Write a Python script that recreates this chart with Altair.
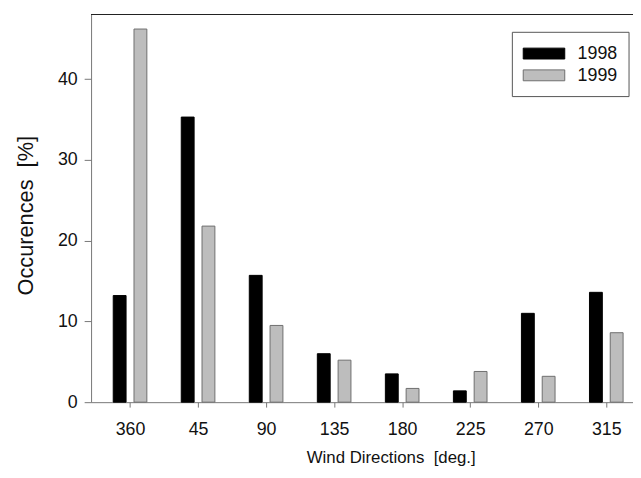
import altair as alt
import pandas as pd

directions = ["360", "45", "90", "135", "180", "225", "270", "315"]
occ_1998 = [13.2, 35.3, 15.7, 6.0, 3.5, 1.4, 11.0, 13.6]
occ_1999 = [46.2, 21.8, 9.5, 5.2, 1.7, 3.8, 3.2, 8.6]
years = ["1998", "1999"]
y_ticks = [0, 10, 20, 30, 40]

FONT = "Liberation Sans"
W, H = 548, 392
NB = "\u00a0"

df = pd.DataFrame({
    "idx": list(range(len(directions))),
    "dir": directions,
    "v1998": occ_1998,
    "v1999": occ_1999,
})

label_expr = "[" + ",".join("'%s'" % d for d in directions) + "][datum.value]"

x_enc = alt.X(
    "idx:Q",
    scale=alt.Scale(domain=[-0.5, 7.32], nice=False, zero=False),
    axis=alt.Axis(
        title="Wind Directions" + NB + NB + "[deg.]",
        values=list(range(len(directions))),
        labelExpr=label_expr,
        grid=False,
        domainColor="#777777",
        tickColor="#777777",
        tickSize=5,
        labelPadding=14,
        labelFontSize=18,
        labelFont=FONT,
        labelColor="#111111",
        titleFont=FONT,
        titleFontSize=17,
        titleFontWeight="normal",
        titleColor="#111111",
        titlePadding=11,
        titleX=303,
    ),
)

y_scale = alt.Scale(domain=[0, 48], nice=False)
y_axis = alt.Axis(
    title="Occurences" + NB + NB + "[%]",
    values=y_ticks,
    grid=False,
    domainColor="#777777",
    tickColor="#777777",
    tickSize=7,
    labelPadding=7,
    labelFontSize=18,
    labelFont=FONT,
    labelColor="#111111",
    titleFont=FONT,
    titleFontSize=22,
    titleFontWeight="normal",
    titleColor="#111111",
    titlePadding=20,
    titleY=203,
)

base = alt.Chart(df)

bars98 = base.mark_bar(
    width=13, xOffset=-10.5, color="#000000", stroke="#000000", strokeWidth=1
).encode(x=x_enc, y=alt.Y("v1998:Q", scale=y_scale, axis=y_axis))

bars99 = base.mark_bar(
    width=13, xOffset=10.5, color="#bdbdbd", stroke="#6e6e6e", strokeWidth=1
).encode(x="idx:Q", y=alt.Y("v1999:Q", scale=y_scale))

top_line = base.mark_rule(color="#222222", strokeWidth=1.2).encode(
    x=alt.value(0), x2=alt.value(W), y=alt.value(0)
)

# Legend (drawn manually as a framed box)
leg_df = pd.DataFrame({"year": years})
box = alt.Chart(pd.DataFrame({"a": [0]})).mark_rect(
    fill="white", stroke="#555555", strokeWidth=1
).encode(x=alt.value(426), x2=alt.value(544), y=alt.value(18), y2=alt.value(83))

sw98 = alt.Chart(leg_df[leg_df.year == "1998"]).mark_rect(
    fill="#000000", stroke="#000000"
).encode(x=alt.value(437), x2=alt.value(479), y=alt.value(34), y2=alt.value(45))
sw99 = alt.Chart(leg_df[leg_df.year == "1999"]).mark_rect(
    fill="#bdbdbd", stroke="#6e6e6e"
).encode(x=alt.value(437), x2=alt.value(479), y=alt.value(56), y2=alt.value(67))
t98 = alt.Chart(leg_df[leg_df.year == "1998"]).mark_text(
    align="left", baseline="middle", font=FONT, fontSize=18, color="#111111"
).encode(x=alt.value(492), y=alt.value(40), text="year:N")
t99 = alt.Chart(leg_df[leg_df.year == "1999"]).mark_text(
    align="left", baseline="middle", font=FONT, fontSize=18, color="#111111"
).encode(x=alt.value(492), y=alt.value(62), text="year:N")

chart = alt.layer(bars98, bars99, top_line, box, sw98, sw99, t98, t99).properties(
    width=W,
    height=H,
    autosize=alt.AutoSizeParams(type="none"),
    padding={"left": 84, "top": 4, "right": 0, "bottom": 65},
    background="white",
).configure_view(stroke=None)

chart.save("out.html", embed_options={"renderer": "svg", "actions": False})
